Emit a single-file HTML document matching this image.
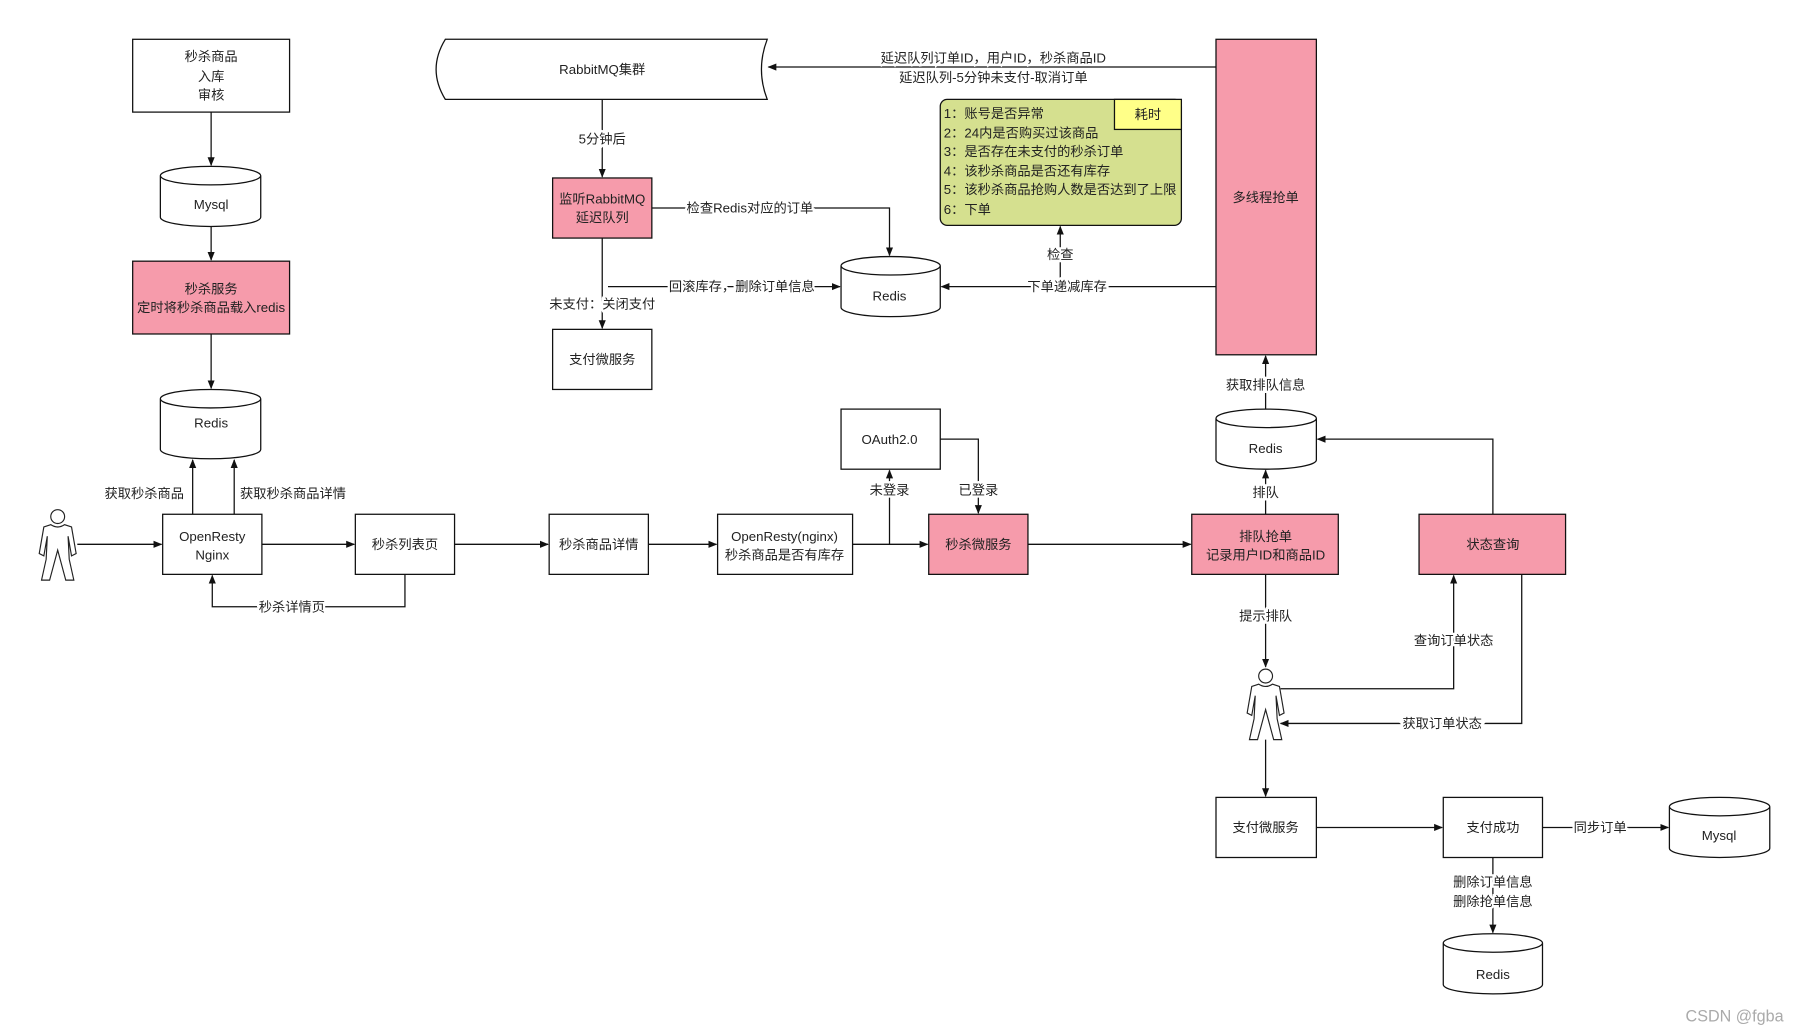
<!DOCTYPE html>
<html><head><meta charset="utf-8"><style>
html,body{margin:0;padding:0;background:#fff;}
svg{display:block;}
text{font-family:"Liberation Sans","Noto Sans CJK SC",sans-serif;font-size:11.5px;fill:#222;}
.l{paint-order:stroke;stroke:#fff;stroke-width:4px;}
</style></head><body>
<svg width="1809" height="1032" viewBox="0 0 1568 893" preserveAspectRatio="none" xmlns="http://www.w3.org/2000/svg">
<defs>
<marker id="a" viewBox="0 0 10 10" refX="9" refY="5" markerWidth="7" markerHeight="7" orient="auto"><path d="M0,1 L10,5 L0,9 z" fill="#111"/></marker>
<g id="p" fill="#fff" stroke="#222" stroke-width="1">
<circle cx="0" cy="7" r="6"/>
<path d="M-6,14 L-12,16 L-16,39 L-12,41 L-9,24 L-10,44 L-14,62 L-7,62 L0,36 L7,62 L14,62 L10,44 L9,24 L12,41 L16,39 L12,16 L6,14 Q0,18 -6,14 Z"/>
</g>
</defs>
<g fill="none" stroke="#111" stroke-width="1.1">
<rect x="115" y="34" width="136" height="63" fill="#fff"/>
<rect x="115" y="226" width="136" height="63" fill="#f69bab"/>
<rect x="141" y="445" width="86" height="52" fill="#fff"/>
<rect x="308" y="445" width="86" height="52" fill="#fff"/>
<rect x="476" y="445" width="86" height="52" fill="#fff"/>
<rect x="622" y="445" width="117" height="52" fill="#fff"/>
<rect x="805" y="445" width="86" height="52" fill="#f69bab"/>
<rect x="1033" y="445" width="127" height="52" fill="#f69bab"/>
<rect x="1230" y="445" width="127" height="52" fill="#f69bab"/>
<rect x="729" y="354" width="86" height="52" fill="#fff"/>
<rect x="479" y="154" width="86" height="52" fill="#f69bab"/>
<rect x="479" y="285" width="86" height="52" fill="#fff"/>
<rect x="1054" y="34" width="87" height="273" fill="#f69bab"/>
<rect x="815" y="86" width="209" height="109" rx="6" fill="#d5e08f"/>
<rect x="966" y="86" width="58" height="26" fill="#ffff88"/>
<rect x="1054" y="690" width="87" height="52" fill="#fff"/>
<rect x="1251" y="690" width="86" height="52" fill="#fff"/>
<path d="M386,34 L665,34 Q655,60 665,86 L386,86 Q370,60 386,34 Z" fill="#fff"/>
<path d="M139,152 a43.5,8 0 0 1 87,0 v36 a43.5,8 0 0 1 -87,0 z M139,152 a43.5,8 0 0 0 87,0" fill="#fff"/>
<path d="M139,345 a43.5,8 0 0 1 87,0 v44 a43.5,8 0 0 1 -87,0 z M139,345 a43.5,8 0 0 0 87,0" fill="#fff"/>
<path d="M729,230 a43,8 0 0 1 86,0 v36 a43,8 0 0 1 -86,0 z M729,230 a43,8 0 0 0 86,0" fill="#fff"/>
<path d="M1054,362 a43.5,8 0 0 1 87,0 v36 a43.5,8 0 0 1 -87,0 z M1054,362 a43.5,8 0 0 0 87,0" fill="#fff"/>
<path d="M1447,698 a43.5,8 0 0 1 87,0 v36 a43.5,8 0 0 1 -87,0 z M1447,698 a43.5,8 0 0 0 87,0" fill="#fff"/>
<path d="M1251,816 a43,8 0 0 1 86,0 v36 a43,8 0 0 1 -86,0 z M1251,816 a43,8 0 0 0 86,0" fill="#fff"/>
<path d="M183,97 V143" marker-end="url(#a)"/>
<path d="M183,196 V225" marker-end="url(#a)"/>
<path d="M183,289 V336" marker-end="url(#a)"/>
<path d="M167,445 V398" marker-end="url(#a)"/>
<path d="M203,445 V398" marker-end="url(#a)"/>
<path d="M67,471 H140" marker-end="url(#a)"/>
<path d="M227,471 H307" marker-end="url(#a)"/>
<path d="M394,471 H475" marker-end="url(#a)"/>
<path d="M562,471 H621" marker-end="url(#a)"/>
<path d="M739,471 H804" marker-end="url(#a)"/>
<path d="M891,471 H1032" marker-end="url(#a)"/>
<path d="M351,497 V525 H184 V498" marker-end="url(#a)"/>
<path d="M771,471 V407" marker-end="url(#a)"/>
<path d="M815,380 H848 V444" marker-end="url(#a)"/>
<path d="M522,86 V153" marker-end="url(#a)"/>
<path d="M565,180 H771 V221" marker-end="url(#a)"/>
<path d="M522,206 V284" marker-end="url(#a)"/>
<path d="M527,248 H728" marker-end="url(#a)"/>
<path d="M1054,58 H666" marker-end="url(#a)"/>
<path d="M1054,248 H816" marker-end="url(#a)"/>
<path d="M919,248 V196" marker-end="url(#a)"/>
<path d="M1097,354 V308" marker-end="url(#a)"/>
<path d="M1097,445 V407" marker-end="url(#a)"/>
<path d="M1294,445 V380 H1142" marker-end="url(#a)"/>
<path d="M1097,497 V577" marker-end="url(#a)"/>
<path d="M1110,596 H1260 V498" marker-end="url(#a)"/>
<path d="M1319,497 V626 H1110" marker-end="url(#a)"/>
<path d="M1097,640 V689" marker-end="url(#a)"/>
<path d="M1141,716 H1250" marker-end="url(#a)"/>
<path d="M1337,716 H1446" marker-end="url(#a)"/>
<path d="M1294,742 V807" marker-end="url(#a)"/>
</g>
<use href="#p" x="50" y="440"/>
<use href="#p" x="1097" y="578"/>
<g text-anchor="middle">
<text x="183" y="53">秒杀商品</text><text x="183" y="70">入库</text><text x="183" y="86">审核</text>
<text x="183" y="181">Mysql</text>
<text x="183" y="254">秒杀服务</text><text x="183" y="270">定时将秒杀商品载入redis</text>
<text x="183" y="370">Redis</text>
<text x="184" y="468">OpenResty</text><text x="184" y="484">Nginx</text>
<text x="351" y="475">秒杀列表页</text>
<text x="519" y="475">秒杀商品详情</text>
<text x="680" y="468">OpenResty(nginx)</text><text x="680" y="484">秒杀商品是否有库存</text>
<text x="848" y="475">秒杀微服务</text>
<text x="1097" y="468">排队抢单</text><text x="1097" y="484">记录用户ID和商品ID</text>
<text x="1294" y="475">状态查询</text>
<text x="771" y="384">OAuth2.0</text>
<text x="522" y="64">RabbitMQ集群</text>
<text x="522" y="176">监听RabbitMQ</text><text x="522" y="192">延迟队列</text>
<text x="522" y="315">支付微服务</text>
<text x="771" y="260">Redis</text>
<text x="1097" y="175">多线程抢单</text>
<text x="1097" y="392">Redis</text>
<text x="995" y="103">耗时</text>
<text x="1097" y="720">支付微服务</text>
<text x="1294" y="720">支付成功</text>
<text x="1490" y="727">Mysql</text>
<text x="1294" y="847">Redis</text>
<text x="125" y="431" class="l">获取秒杀商品</text>
<text x="254" y="431" class="l">获取秒杀商品详情</text>
<text x="253" y="529" class="l">秒杀详情页</text>
<text x="771" y="428" class="l">未登录</text>
<text x="848" y="428" class="l">已登录</text>
<text x="522" y="124" class="l">5分钟后</text>
<text x="650" y="184" class="l">检查Redis对应的订单</text>
<text x="522" y="267" class="l">未支付：关闭支付</text>
<text x="643" y="252" class="l">回滚库存，删除订单信息</text>
<text x="861" y="54" class="l">延迟队列订单ID，用户ID，秒杀商品ID</text>
<text x="861" y="71" class="l">延迟队列-5分钟未支付-取消订单</text>
<text x="925" y="252" class="l">下单递减库存</text>
<text x="919" y="224" class="l">检查</text>
<text x="1097" y="337" class="l">获取排队信息</text>
<text x="1097" y="430" class="l">排队</text>
<text x="1097" y="537" class="l">提示排队</text>
<text x="1260" y="558" class="l">查询订单状态</text>
<text x="1250" y="630" class="l">获取订单状态</text>
<text x="1387" y="720" class="l">同步订单</text>
<text x="1294" y="767" class="l">删除订单信息</text>
<text x="1294" y="784" class="l">删除抢单信息</text>
</g>
<g>
<text x="818" y="102">1：账号是否异常</text>
<text x="818" y="119">2：24内是否购买过该商品</text>
<text x="818" y="135">3：是否存在未支付的秒杀订单</text>
<text x="818" y="152">4：该秒杀商品是否还有库存</text>
<text x="818" y="168">5：该秒杀商品抢购人数是否达到了上限</text>
<text x="818" y="185">6：下单</text>
</g>
<text x="1461" y="884" style="font-size:14px;fill:#aaa;">CSDN @fgba</text>
</svg>
</body></html>
